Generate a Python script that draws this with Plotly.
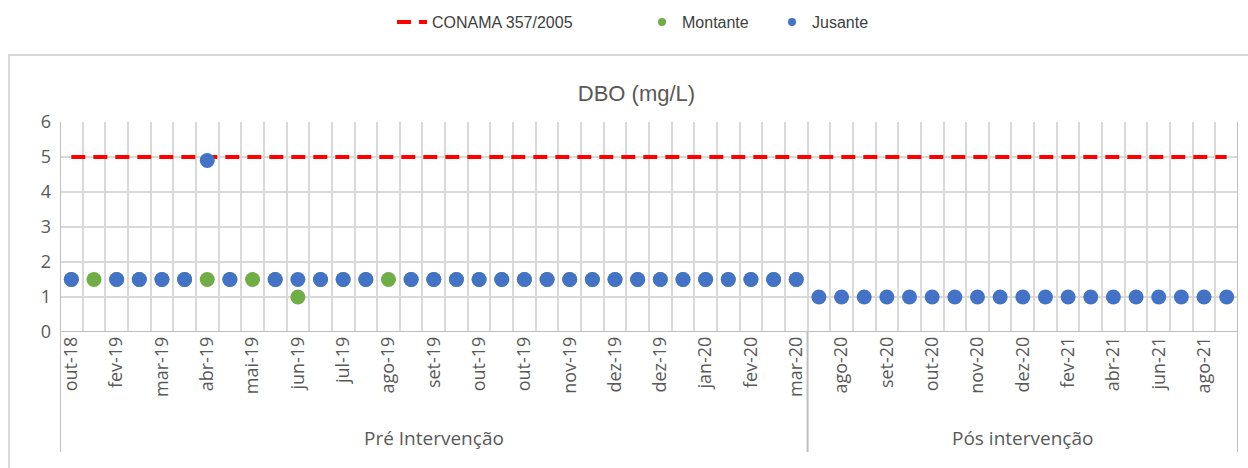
import plotly.graph_objects as go

# rótulos do eixo x (Excel mostra um a cada dois meses)
rotulos = ["out-18", "fev-19", "mar-19", "abr-19", "mai-19", "jun-19", "jul-19", "ago-19",
           "set-19", "out-19", "out-19", "nov-19", "dez-19", "dez-19", "jan-20", "fev-20",
           "mar-20", "ago-20", "set-20", "out-20", "nov-20", "dez-20", "fev-21", "abr-21",
           "jun-21", "ago-21"]
grupos = ["Pré Intervenção", "Pós intervenção"]

montante_pre = [1.5, 1.5, 1.5, 1.5, 1.5, 1.5, 1.5, 1.5, 1.5, 1.5, 1.0, 1.5, 1.5, 1.5, 1.5, 1.5, 1.5,
                1.5, 1.5, 1.5, 1.5, 1.5, 1.5, 1.5, 1.5, 1.5, 1.5, 1.5, 1.5, 1.5, 1.5, 1.5, 1.5]
jusante_pre = [1.5, None, 1.5, 1.5, 1.5, 1.5, 4.9, 1.5, None, 1.5, 1.5, 1.5, 1.5, 1.5, None, 1.5, 1.5,
               1.5, 1.5, 1.5, 1.5, 1.5, 1.5, 1.5, 1.5, 1.5, 1.5, 1.5, 1.5, 1.5, 1.5, 1.5, 1.5]
montante_pos = [None] * 19
jusante_pos = [1.0] * 19
conama = 5

montante = montante_pre + montante_pos
jusante = jusante_pre + jusante_pos
n_pre = len(jusante_pre)
n = len(jusante)
x = list(range(n))

AZUL = "#4472C4"
VERDE = "#70AD47"
VERMELHO = "#FF0000"
GRADE = "#D9D9D9"
EIXO = "#BFBFBF"
TEXTO = "#595959"
W, H = 1248, 468
L, R, T, B = 60, 10, 122, 136


def py(px):
    # pixel vertical -> coordenada paper
    return (H - B - px) / (H - T - B)


def px_x(px):
    return (px - L) / (W - L - R)


fig = go.Figure()
fig.add_trace(go.Scatter(x=x, y=[conama] * n, mode="lines", name="CONAMA 357/2005",
                         line=dict(color=VERMELHO, width=4, dash="14px,8px"),
                         legend="legend", hoverinfo="skip"))
fig.add_trace(go.Scatter(x=x, y=montante, mode="markers", name="Montante", showlegend=False,
                         marker=dict(color=VERDE, size=15)))
fig.add_trace(go.Scatter(x=x, y=jusante, mode="markers", name="Jusante", showlegend=False,
                         marker=dict(color=AZUL, size=15)))
# entradas de legenda com marcadores menores
fig.add_trace(go.Scatter(x=[None], y=[None], mode="markers", name="Montante",
                         marker=dict(color=VERDE, size=8), legend="legend2"))
fig.add_trace(go.Scatter(x=[None], y=[None], mode="markers", name="Jusante",
                         marker=dict(color=AZUL, size=8), legend="legend3"))

leg = dict(orientation="h", yref="container", y=1 - 22 / H, yanchor="middle",
           xref="container", xanchor="left", bgcolor="rgba(0,0,0,0)",
           font=dict(family="Liberation Sans, Arial, sans-serif", size=16, color="#404040"))

shapes = [
    dict(type="rect", xref="paper", yref="paper", x0=px_x(9), x1=px_x(1260), y0=py(475), y1=py(55),
         line=dict(color=GRADE, width=2), layer="below"),
    dict(type="line", xref="x", yref="y", x0=-0.5, x1=n - 0.5, y0=0, y1=0, line=dict(color=EIXO, width=2)),
    dict(type="line", xref="x", yref="paper", x0=-0.5, x1=-0.5, y0=1, y1=py(452), line=dict(color=EIXO, width=2)),
    dict(type="line", xref="x", yref="paper", x0=n_pre - 0.5, x1=n_pre - 0.5, y0=0, y1=py(452),
         line=dict(color=EIXO, width=2)),
    dict(type="line", xref="x", yref="paper", x0=n - 0.5, x1=n - 0.5, y0=1, y1=py(452),
         line=dict(color=EIXO, width=2)),
]

fonte_grupo = dict(family="Open Sans, sans-serif", size=19, color=TEXTO)
annotations = [
    dict(text=grupos[0], xref="x", yref="paper", x=(n_pre - 1) / 2, y=py(438), showarrow=False,
         font=fonte_grupo, yanchor="middle"),
    dict(text=grupos[1], xref="x", yref="paper", x=n_pre + (n - n_pre - 1) / 2, y=py(438), showarrow=False,
         font=fonte_grupo, yanchor="middle"),
]

fig.update_layout(
    width=W, height=H,
    margin=dict(l=L, r=R, t=T, b=B),
    paper_bgcolor="white", plot_bgcolor="white",
    title=dict(text="DBO (mg/L)", x=0.51, xanchor="center", yref="container", y=1 - 93 / H,
               yanchor="middle", font=dict(family="Liberation Sans, Arial, sans-serif",
                                             size=22, color=TEXTO)),
    legend=dict(leg, x=392 / W),
    legend2=dict(leg, x=642 / W),
    legend3=dict(leg, x=772 / W),
    shapes=shapes,
    annotations=annotations,
    showlegend=True,
)
fig.update_xaxes(range=[-0.5, n - 0.5], tickvals=x[::2], ticktext=rotulos, tickangle=-90,
                 showgrid=False, zeroline=False, showline=False, ticks="",
                 tickfont=dict(family="Open Sans, sans-serif", size=18, color=TEXTO),
                 minor=dict(tick0=-0.5, dtick=1, showgrid=True, gridcolor=GRADE, gridwidth=2))
fig.update_yaxes(range=[0, 6], dtick=1, showgrid=True, gridcolor=GRADE, gridwidth=2,
                 zeroline=False, showline=False, ticks="", ticklabelstandoff=8,
                 tickfont=dict(family="Open Sans, sans-serif", size=18, color=TEXTO))

fig.write_html("out.html", config={"displayModeBar": False},
               post_script="document.body.style.margin='0';")
